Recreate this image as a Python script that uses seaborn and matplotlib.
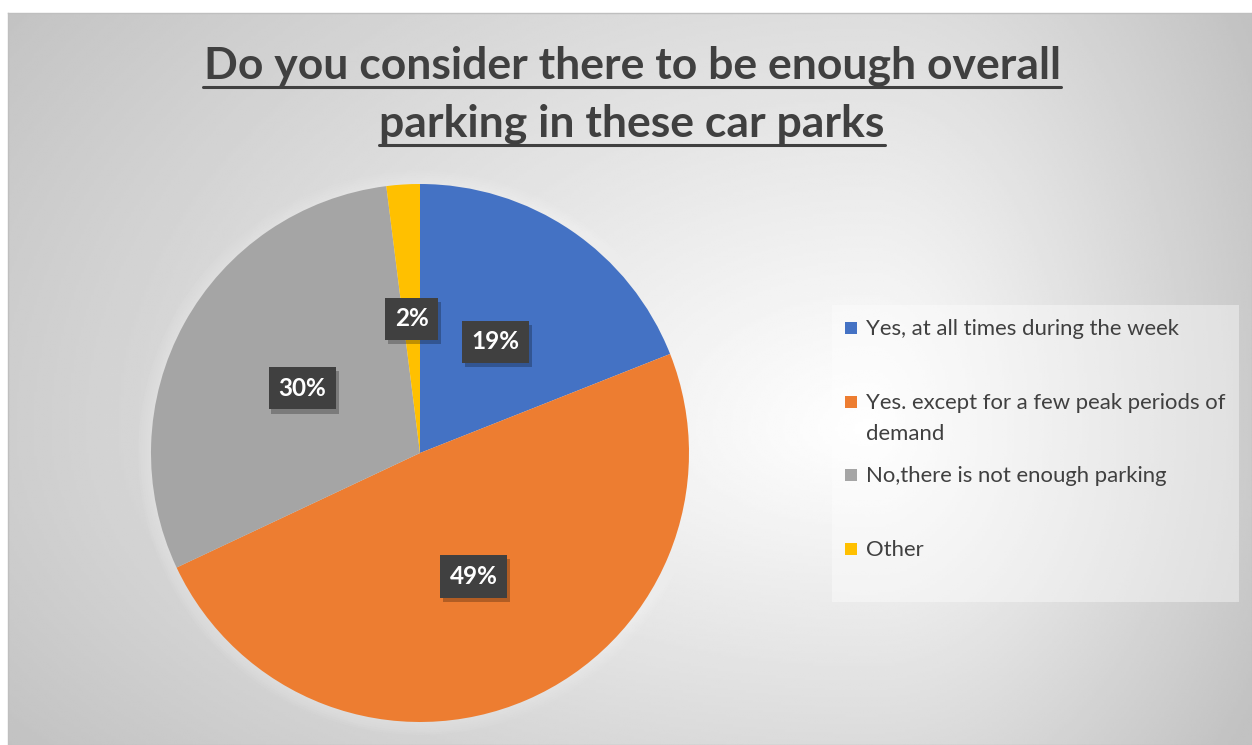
import numpy as np
import matplotlib
matplotlib.use("Agg")
import matplotlib.pyplot as plt
import matplotlib.patheffects as pe
from matplotlib.patches import Rectangle, Circle
from matplotlib.lines import Line2D
import seaborn as sns

# chart data
title_lines = ["Do you consider there to be enough overall",
               "parking in these car parks"]
categories = ["Yes, at all times during the week",
              "Yes. except for a few peak periods of\ndemand",
              "No,there is not enough parking",
              "Other"]
shares = [19, 49, 30, 2]
colors = ["#4472C4", "#ED7D31", "#A5A5A5", "#FFC000"]

sns.set_theme(style="white")
plt.rcParams['font.family'] = ['Lato', 'DejaVu Sans']

W, H = 1252, 745
fig = plt.figure(figsize=(W / 100, H / 100), dpi=100)
fig.patch.set_facecolor('white')

# grey radial backdrop of the chart area
bg = fig.add_axes([8 / W, 0, 1 - 8 / W, 1 - 13 / H])
xs = np.linspace(8, W, 500)
ys = np.linspace(13, H, 300)
X, Y = np.meshgrid(xs, ys)
cx, cy = 870, 430
dx = np.where(X < cx, (X - cx) / 1000, (X - cx) / 420)
dy = np.where(Y < cy, (Y - cy) / 700, (Y - cy) / 500)
t = np.sqrt(dx ** 2 + dy ** 2)
g = np.clip(255 - 57 * t, 194, 255) / 255
bg.imshow(g, cmap='gray', vmin=0, vmax=1, extent=[0, 1, 0, 1],
          origin='upper', aspect='auto', interpolation='bilinear')
bg.set_xticks([])
bg.set_yticks([])
for s in bg.spines.values():
    s.set_color('#BFBFBF')
    s.set_linewidth(1)

# pie
R = 269
ax = fig.add_axes([(420 - R) / W, (H - 453 - R) / H, 2 * R / W, 2 * R / H])
ax.set_facecolor('none')
for k in range(1, 7):
    ax.add_patch(Circle((0, 0), 1 + 0.008 * k, color='white', alpha=0.05,
                        zorder=0, clip_on=False, linewidth=0))

wedges, texts, autotexts = ax.pie(
    shares, colors=colors, startangle=90, counterclock=False,
    autopct='%1.0f%%', pctdistance=0.5,
    wedgeprops=dict(linewidth=0),
    textprops=dict(color='white', fontsize=17.5, fontweight='bold'))
ax.set_xlim(-1, 1)
ax.set_ylim(-1, 1)

for at in autotexts:
    at.set_bbox(dict(boxstyle='square,pad=0.4', facecolor='#404040',
                     edgecolor='none', linewidth=0))
    at.get_bbox_patch().set_path_effects([
        pe.withSimplePatchShadow(offset=(2, -3), shadow_rgbFace='black', alpha=0.25),
        pe.Normal()])

# legend panel
fig.add_artist(Rectangle((832 / W, 1 - 602 / H), (1239 - 832) / W, (602 - 305) / H,
                         transform=fig.transFigure, facecolor='white', alpha=0.4,
                         edgecolor='none'))
pitch = 73.7
for i, (lab, col) in enumerate(zip(categories, colors)):
    yc = 328 + pitch * i
    fig.add_artist(Rectangle((845 / W, 1 - (yc + 6) / H), 12 / W, 12 / H,
                             transform=fig.transFigure, facecolor=col,
                             edgecolor='none'))
    fig.text(866 / W, 1 - (yc - 9) / H, lab, ha='left', va='top',
             fontsize=15.9, color='#404040', linespacing=1.7)

# title with underline
title_texts = []
for line, base in zip(title_lines, [79, 137]):
    tt = fig.text(632 / W, 1 - base / H, line, ha='center', va='baseline',
                  fontsize=32, fontweight='bold', color='#404040')
    title_texts.append((tt, base))

fig.canvas.draw()
renderer = fig.canvas.get_renderer()
for tt, base in title_texts:
    bb = tt.get_window_extent(renderer)
    yu = 1 - (base + 8) / H
    fig.add_artist(Line2D([bb.x0 / W, bb.x1 / W], [yu, yu], transform=fig.transFigure,
                          color='#404040', linewidth=2.2))

fig.savefig('out.png', dpi=100)
